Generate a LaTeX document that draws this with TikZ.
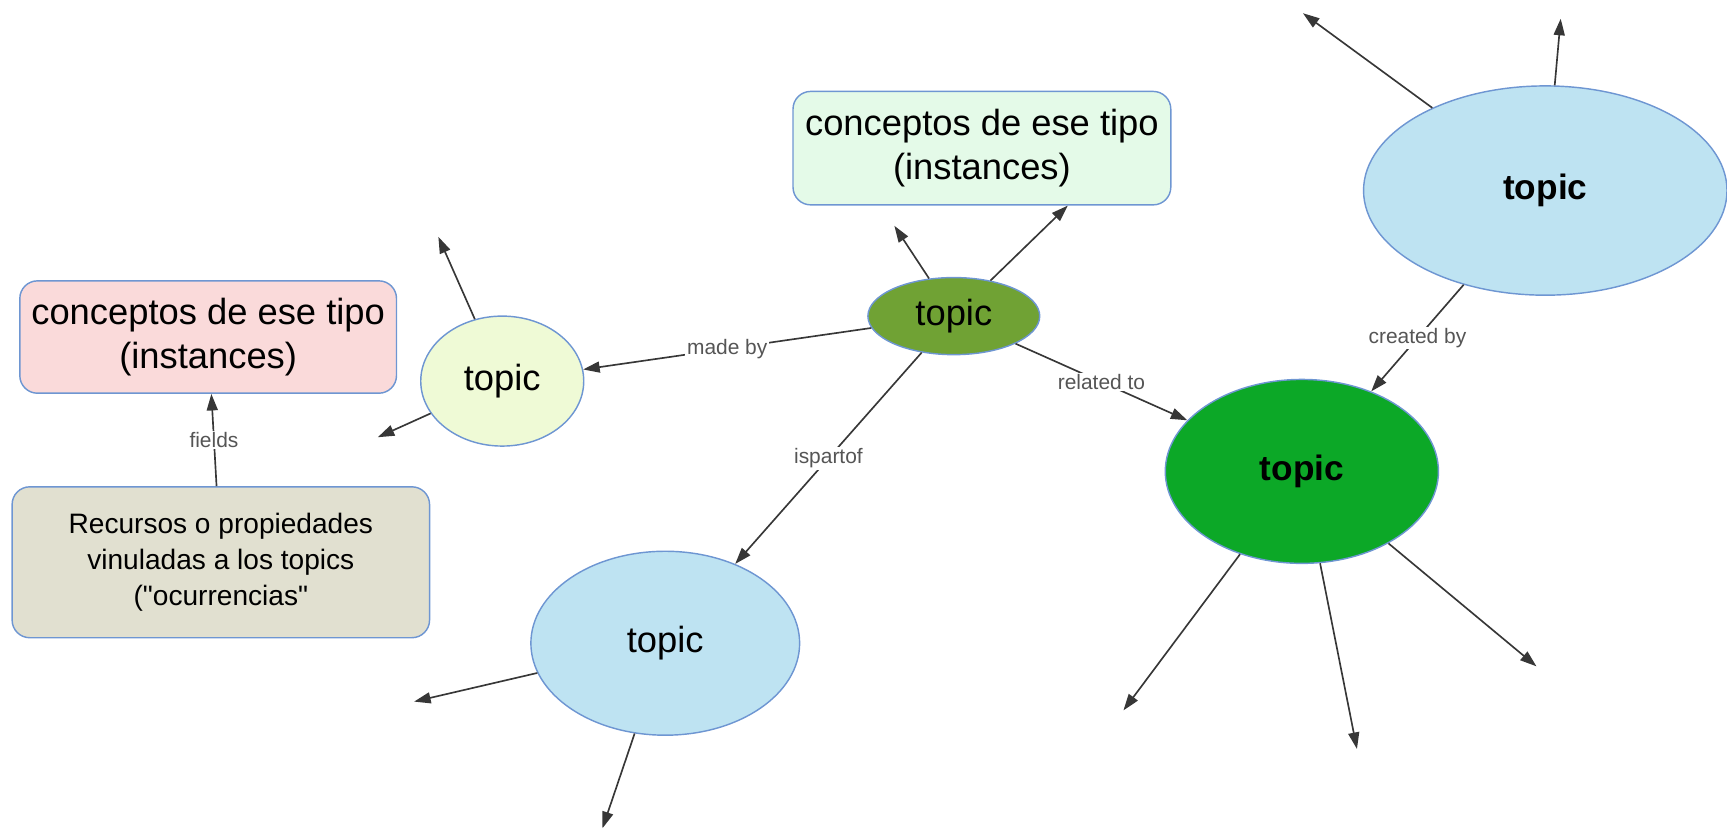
\documentclass[tikz,border=0pt]{standalone}
\usepackage{fontspec}
\setmainfont{Liberation Sans}[Ligatures=TeXOff]
\usetikzlibrary{shapes.geometric,arrows.meta}
\definecolor{bord}{RGB}{110,150,210}
\definecolor{linec}{RGB}{55,55,55}
\definecolor{labc}{RGB}{85,85,85}
\definecolor{pinkc}{RGB}{250,218,218}
\definecolor{mintc}{RGB}{228,250,232}
\definecolor{beigec}{RGB}{225,224,208}
\definecolor{yellowc}{RGB}{239,250,214}
\definecolor{olivec}{RGB}{112,162,52}
\definecolor{lbluec}{RGB}{190,227,242}
\definecolor{greenc}{RGB}{12,168,39}
\begin{document}
\begin{tikzpicture}[x=1pt,y=-1pt,
  topicnode/.style={ellipse,draw=bord,line width=1.3pt,inner sep=0pt,font=\fontsize{33}{40}\selectfont},
  boxnode/.style={rectangle,rounded corners=16pt,draw=bord,line width=1.3pt,inner sep=0pt,align=center,font=\fontsize{33}{40}\selectfont},
  arr/.style={draw=linec,line width=1.5pt,-{Triangle[length=15pt,width=10pt]}},
  lab/.style={fill=white,inner sep=1.5pt,font=\fontsize{19}{22}\selectfont,text=labc}]
\useasboundingbox (0,0) rectangle (1568,755);
% boxes
\node[boxnode,fill=pinkc,minimum width=342pt,minimum height=102pt] (pink) at (189,306) {conceptos de ese tipo\\(instances)};
\node[boxnode,fill=mintc,minimum width=343pt,minimum height=103pt] (topbox) at (891.5,134.5) {conceptos de ese tipo\\(instances)};
\node[boxnode,fill=beigec,minimum width=379pt,minimum height=137pt,font=\fontsize{25.5}{32.5}\selectfont] (recursos) at (200.5,510.5) {Recursos o propiedades\\vinuladas a los topics\\("ocurrencias"};
% ellipses
\node[topicnode,fill=yellowc,minimum width=148pt,minimum height=118pt] (yellow) at (456,346) {topic};
\node[topicnode,fill=olivec,minimum width=156pt,minimum height=70pt] (central) at (866,287) {topic};
\node[topicnode,fill=lbluec,minimum width=330pt,minimum height=190pt,font=\fontsize{32}{38}\selectfont\bfseries] (tr) at (1403,173) {topic};
\node[topicnode,fill=greenc,minimum width=248pt,minimum height=167pt,font=\fontsize{32}{38}\selectfont\bfseries] (green) at (1182,428) {topic};
\node[topicnode,fill=lbluec,minimum width=244pt,minimum height=167pt] (bottom) at (604,584) {topic};
% free ends
\coordinate (c1) at (812,205);
\coordinate (y1) at (398,215);
\coordinate (y2) at (343,397);
\coordinate (t1) at (1183,12);
\coordinate (t2) at (1417,17);
\coordinate (g1) at (1020,645);
\coordinate (g2) at (1232,680);
\coordinate (g3) at (1395,605);
\coordinate (b1) at (376,637);
\coordinate (b2) at (547,752);
% labelled connectors
\draw[arr] (central) -- node[lab,pos=0.5] {made by} (yellow);
\draw[arr] (central) -- node[lab,pos=0.5] {related to} (green);
\draw[arr] (central) -- node[lab,pos=0.5] {ispartof} (bottom);
\draw[arr] (recursos) -- node[lab,pos=0.5] {fields} (pink);
\draw[arr] (tr) -- node[lab,pos=0.5] {created by} (green);
% unlabelled connectors
\draw[arr] (central) -- ([xshift=78pt]topbox.south);
\draw[arr] (central) -- (c1);
\draw[arr] (yellow) -- (y1);
\draw[arr] (yellow) -- (y2);
\draw[arr] (tr) -- (t1);
\draw[arr] (tr) -- (t2);
\draw[arr] (green) -- (g1);
\draw[arr] (green) -- (g2);
\draw[arr] (green) -- (g3);
\draw[arr] (bottom) -- (b1);
\draw[arr] (bottom) -- (b2);
\end{tikzpicture}
\end{document}
